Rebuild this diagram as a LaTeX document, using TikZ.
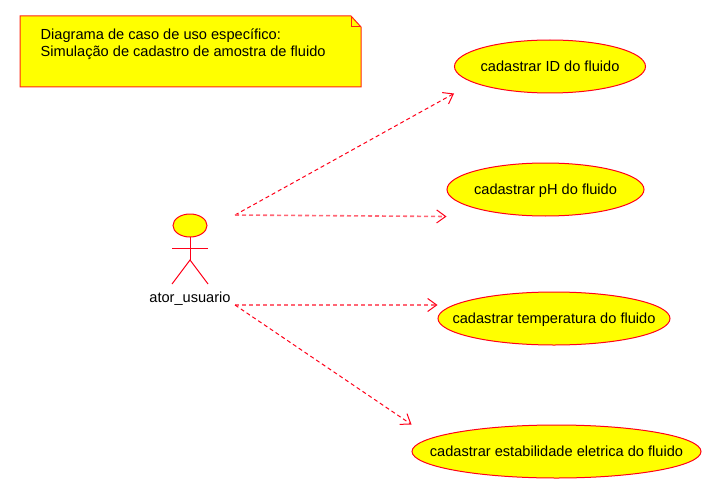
\documentclass[tikz,border=0pt]{standalone}
\usepackage{fontspec}
\setmainfont{Liberation Sans}
\usetikzlibrary{arrows.meta,shapes.geometric}
\newcommand{\uctext}[1]{\makebox[0pt]{\raisebox{-4.6pt}[0pt][0pt]{#1}}}
\tikzset{
  umlline/.style={color=kRed,line width=1pt},
  usecase/.style={ellipse,draw=kRed,fill=kYellow,line width=1pt,inner sep=0pt,
    minimum height=53pt,font=\fontsize{14.6}{16}\selectfont},
  depend/.style={umlline,dash pattern=on 4pt off 3pt,-{Straight Barb[length=9pt,width=13pt,line width=1pt]}},
  dependflat/.style={depend,line width=1.6pt,color=kRed!60!white,-{Straight Barb[length=9pt,width=13pt,line width=1pt,color=kRed]}},
}
\begin{document}
\begin{tikzpicture}[x=1pt,y=-1pt]
  % colors
  \definecolor{kRed}{rgb}{1.0,0.0,0.1}
  \definecolor{kYellow}{rgb}{1.0,1.0,0.0}
  \useasboundingbox (0,0) rectangle (722,492);
  % note
  \draw[umlline,color=kRed!70!orange,fill=kYellow] (20,16) -- (351,16) -- (361,27) -- (361,87) -- (20,87) -- cycle;
  \draw[umlline,color=kRed!70!orange] (351,16) -- (351,27) -- (361,27);
  \node[anchor=north west,align=left,inner sep=0pt,font=\fontsize{14.6}{16.5}\selectfont] (noteText) at (40.5,29)
    {Diagrama de caso de uso específico:\\Simulação de cadastro de amostra de fluido};
  % actor
  \draw[umlline,fill=kYellow] (190,225.5) ellipse (17 and 11.5);
  \draw[umlline] (190,237) -- (190,260);
  \draw[umlline] (172,248) -- (208,248);
  \draw[umlline] (172,284) -- (190,260) -- (208,284);
  \node[font=\fontsize{14.6}{16}\selectfont,inner sep=0pt] (ator) at (190,298.5) {ator\_usuario};
  \coordinate (atorHigh) at (235,215);
  \coordinate (atorLow) at (235,305);
  % use cases
  \node[usecase,minimum width=191pt] (ucId) at (550,66.5) {\uctext{cadastrar ID do fluido}};
  \node[usecase,minimum width=197pt] (ucPh) at (545.5,189.5) {\uctext{cadastrar pH do fluido}};
  \node[usecase,minimum width=232pt] (ucTemp) at (554,318.5) {\uctext{cadastrar temperatura do fluido}};
  \node[usecase,minimum width=289pt] (ucEstab) at (556.5,451.5) {\uctext{cadastrar estabilidade eletrica do fluido}};
  % dependencies
  \draw[depend] (atorHigh) -- (ucId.west |- ucId.south);
  \draw[dependflat] (atorHigh) -- (ucPh.west |- ucPh.south);
  \draw[dependflat] (atorLow) -- (ucTemp.west |- atorLow);
  \draw[depend] (atorLow) -- (ucEstab.west |- ucEstab.north);
\end{tikzpicture}
\end{document}
